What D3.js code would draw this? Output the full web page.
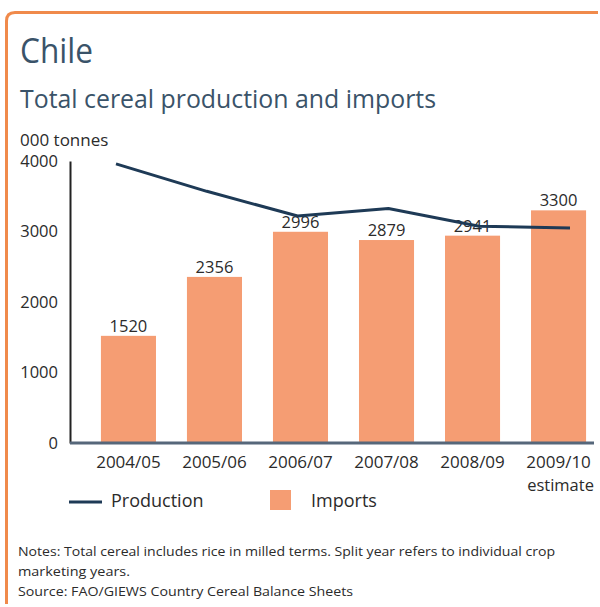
<!DOCTYPE html>
<html>
<head>
<meta charset="utf-8">
<script src="https://cdn.jsdelivr.net/npm/d3@7/dist/d3.min.js"></script>
<style>
  html, body { margin: 0; padding: 0; background: #ffffff; }
  svg { display: block; }
  text { font-family: "Open Sans", "Noto Sans", sans-serif; }
</style>
</head>
<body>
<div id="chart"></div>
<script>
// ---- data ----
const categories = ["2004/05", "2005/06", "2006/07", "2007/08", "2008/09", "2009/10"];
const categorySubLabels = ["", "", "", "", "", "estimate"];
const imports = [1520, 2356, 2996, 2879, 2941, 3300];
const production = [3960, 3570, 3220, 3325, 3075, 3050];
const yTicks = [0, 1000, 2000, 3000, 4000];
const titleText = "Chile";
const subtitleText = "Total cereal production and imports";
const unitText = "000 tonnes";
const legendLabels = ["Production", "Imports"];
const noteLines = [
  "Notes: Total cereal includes rice in milled terms. Split year refers to individual crop",
  "marketing years.",
  "Source: FAO/GIEWS Country Cereal Balance Sheets"
];

// ---- layout ----
const W = 600, H = 607;
const barColor = "#F59D73";
const lineColor = "#1E3A56";
const titleColor = "#3A5369";
const textColor = "#2b2b2b";

const svg = d3.select("#chart").append("svg")
  .attr("width", W).attr("height", H);

function fit(sel, w) {
  const n = sel.node();
  if (n.getComputedTextLength() > w) {
    sel.attr("textLength", w).attr("lengthAdjust", "spacingAndGlyphs");
  }
  return sel;
}
function setLen(sel, w) {
  return sel.attr("textLength", w).attr("lengthAdjust", "spacingAndGlyphs");
}

// frame
svg.append("path")
  .attr("d", "M6.5,604 L6.5,21 Q6.5,12.5 15,12.5 L598,12.5")
  .attr("fill", "none")
  .attr("stroke", "#F08A4B")
  .attr("stroke-width", 3);

// titles
fit(svg.append("text").attr("x", 20).attr("y", 63)
  .attr("font-size", 34).attr("fill", titleColor).text(titleText), 73);
fit(svg.append("text").attr("x", 20).attr("y", 108)
  .attr("font-size", 26).attr("fill", titleColor).text(subtitleText), 416);
fit(svg.append("text").attr("x", 20).attr("y", 146)
  .attr("font-size", 17).attr("fill", textColor).text(unitText), 90);

// scales
const y = d3.scaleLinear().domain([0, 4000]).range([443, 161]);
const x = d3.scaleBand().domain(categories)
  .range([82, 605]).paddingInner(0.36).paddingOuter(0.22);
const xLine = d3.scalePoint().domain(categories).range([116, 570]);

// y axis
const yAxis = d3.axisLeft(y).tickValues(yTicks).tickSize(0).tickPadding(12)
  .tickFormat(d3.format("d"));
const gy = svg.append("g").attr("transform", "translate(70,0)").call(yAxis);
gy.select(".domain").attr("stroke", "#222").attr("stroke-width", 2);
gy.selectAll(".tick text")
  .attr("font-size", 16.5).attr("fill", textColor)
  .attr("font-family", "'Open Sans', sans-serif");

// bars
svg.append("g").selectAll("rect").data(categories).join("rect")
  .attr("x", d => x(d))
  .attr("width", x.bandwidth())
  .attr("y", (d, i) => y(imports[i]))
  .attr("height", (d, i) => y(0) - y(imports[i]))
  .attr("fill", barColor);

// bar value labels
svg.append("g").selectAll("text").data(categories).join("text")
  .attr("x", d => x(d) + x.bandwidth() / 2)
  .attr("y", (d, i) => y(imports[i]) - 4)
  .attr("text-anchor", "middle")
  .attr("font-size", 16.5)
  .attr("fill", textColor)
  .text((d, i) => imports[i]);

// x axis
const xAxis = d3.axisBottom(x).tickSize(0).tickPadding(13);
const gx = svg.append("g").attr("transform", `translate(0,${y(0)})`).call(xAxis);
gx.select(".domain").remove();
gx.selectAll(".tick text")
  .attr("font-size", 17).attr("fill", textColor)
  .attr("font-family", "'Open Sans', sans-serif");
gx.selectAll(".tick").each(function(d, i) {
  if (categorySubLabels[i]) {
    d3.select(this).append("text")
      .attr("y", 48)
      .attr("x", 2)
      .attr("text-anchor", "middle")
      .attr("font-size", 16.5)
      .attr("fill", textColor)
      .attr("font-family", "'Open Sans', sans-serif")
      .text(categorySubLabels[i]);
  }
});
svg.append("line")
  .attr("x1", 70).attr("x2", 594)
  .attr("y1", y(0)).attr("y2", y(0))
  .attr("stroke", "#56677a").attr("stroke-width", 3);

// production line
const line = d3.line()
  .x((d, i) => xLine(categories[i]))
  .y(d => y(d));
svg.append("path")
  .datum(production)
  .attr("d", line)
  .attr("fill", "none")
  .attr("stroke", lineColor)
  .attr("stroke-width", 3)
  .attr("stroke-linejoin", "round");

// legend
const lg = svg.append("g");
lg.append("line").attr("x1", 69).attr("x2", 102).attr("y1", 502).attr("y2", 502)
  .attr("stroke", lineColor).attr("stroke-width", 3);
lg.append("text").attr("x", 111).attr("y", 507).attr("font-size", 18)
  .attr("fill", textColor).text(legendLabels[0]);
lg.append("rect").attr("x", 270).attr("y", 490).attr("width", 21).attr("height", 20)
  .attr("fill", barColor);
lg.append("text").attr("x", 311).attr("y", 507).attr("font-size", 18)
  .attr("fill", textColor).text(legendLabels[1]);

// notes
const noteY = [556, 576, 596];
const noteW = [537, 112, 335];
noteLines.forEach((t, i) => {
  const s = svg.append("text").attr("x", 18).attr("y", noteY[i])
    .attr("font-size", 13.5).attr("fill", textColor).text(t);
  setLen(s, noteW[i]);
});
</script>
</body>
</html>
